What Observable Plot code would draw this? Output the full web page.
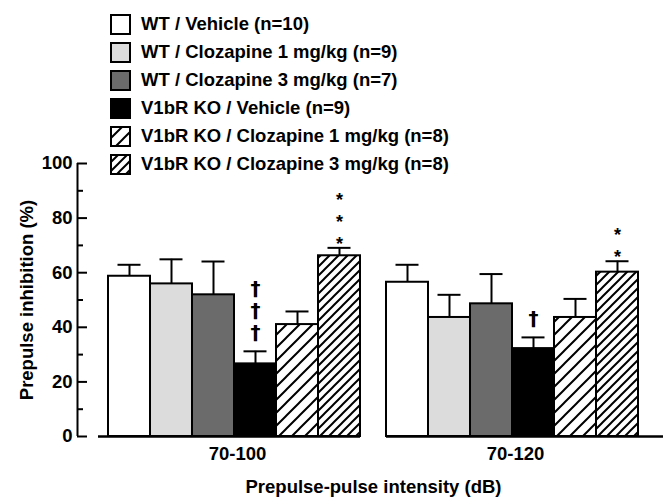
<!DOCTYPE html>
<html><head><meta charset="utf-8">
<script src="https://cdn.jsdelivr.net/npm/d3@7"></script>
<script src="https://cdn.jsdelivr.net/npm/@observablehq/plot@0.6"></script>
<style>
body{margin:0;background:#fff;font-family:"Liberation Sans",Arial,sans-serif;}
#wrap{position:relative;width:663px;height:497px;overflow:hidden;}
#legend{position:absolute;left:110px;top:10px;font-weight:bold;font-size:18.5px;color:#000;}
.row{display:flex;align-items:center;height:28px;white-space:nowrap;}
.row svg{margin-right:10px;flex:none;}
</style></head><body>
<svg width="0" height="0" style="position:absolute">
  <defs>
    <pattern id="hatchWide" patternUnits="userSpaceOnUse" width="13" height="13">
      <rect width="13" height="13" fill="white"/>
      <path d="M-3,3 L3,-3 M0,13 L13,0 M10,16 L16,10" stroke="black" stroke-width="2"/>
    </pattern>
    <pattern id="hatchNarrow" patternUnits="userSpaceOnUse" width="9" height="9">
      <rect width="9" height="9" fill="white"/>
      <path d="M-3,3 L3,-3 M0,9 L9,0 M6,12 L12,6" stroke="black" stroke-width="2"/>
    </pattern>
  </defs>
</svg>
<div id="wrap"><div id="chart"></div><div id="legend"></div></div>
<script>
const intensities = ["70-100", "70-120"];
const conditions = [
  "WT / Vehicle (n=10)",
  "WT / Clozapine 1 mg/kg (n=9)",
  "WT / Clozapine 3 mg/kg (n=7)",
  "V1bR KO / Vehicle (n=9)",
  "V1bR KO / Clozapine 1 mg/kg (n=8)",
  "V1bR KO / Clozapine 3 mg/kg (n=8)"
];
const fills = ["white", "#dcdcdc", "#6b6b6b", "black", "url(#hatchWide)", "url(#hatchNarrow)"];
const pi100 = [58.7, 55.9, 51.9, 26.6, 41.0, 66.2];
const sem100 = [4.2, 9.0, 12.2, 4.6, 4.8, 2.9];
const pi120 = [56.5, 43.6, 48.6, 32.2, 43.6, 60.2];
const sem120 = [6.4, 8.3, 10.9, 4.1, 6.8, 4.0];
const sig100 = ["", "", "", "†\n†\n†", "", "*\n*\n*"];
const sig120 = ["", "", "", "†", "", "*\n*"];
const yTicks = [0, 20, 40, 60, 80, 100];
const yMinor = [10, 30, 50, 70, 90];
const yLabel = "Prepulse inhibition (%)";
const xLabel = "Prepulse-pulse intensity (dB)";

const data = [];
conditions.forEach((c, i) => {
  data.push({group: intensities[0], cond: c, value: pi100[i], top: pi100[i] + sem100[i], sig: sig100[i]});
  data.push({group: intensities[1], cond: c, value: pi120[i], top: pi120[i] + sem120[i], sig: sig120[i]});
});

const font = "Liberation Sans, Arial, sans-serif";
const chart = Plot.plot({
  width: 663, height: 497,
  marginTop: 163, marginBottom: 61, marginLeft: 108, marginRight: 25,
  style: {fontFamily: font, fontSize: "18.5px", fontWeight: "bold", color: "black", background: "white", overflow: "visible"},
  fx: {domain: intensities, paddingInner: 0.094, paddingOuter: 0},
  x: {domain: conditions, padding: 0, axis: null},
  y: {domain: [0, 100]},
  color: {domain: conditions, range: fills},
  marks: [
    Plot.barY(data, {fx: "group", x: "cond", y: "value", fill: "cond", stroke: "black", strokeWidth: 2}),
    Plot.ruleX(data, {fx: "group", x: "cond", y1: "value", y2: "top", stroke: "black", strokeWidth: 2}),
    Plot.tickY(data, {fx: "group", x: "cond", y: "top", stroke: "black", strokeWidth: 2, inset: 9.5}),
    Plot.text(data.filter(d => d.sig.includes("†")), {fx: "group", x: "cond", y: "top", text: "sig", lineAnchor: "bottom", lineHeight: 1.1, dy: -12, fontSize: 20, fontFamily: "DejaVu Sans, sans-serif"}),
    Plot.text(data.filter(d => d.sig.includes("*")), {fx: "group", x: "cond", y: "top", text: "sig", lineAnchor: "bottom", lineHeight: 1.22, dy: 2, fontSize: 18}),
    Plot.ruleY([{fx: intensities[0], y: 0}], {fx: "fx", y: "y", insetLeft: -10, strokeWidth: 2.5}),
    Plot.ruleY([{fx: intensities[1], y: 0}], {fx: "fx", y: "y", insetRight: -25, strokeWidth: 2.5}),
    Plot.ruleX([{fx: intensities[0], x: conditions[0]}], {fx: "fx", x: "x", y1: yTicks[0], y2: yTicks[yTicks.length - 1], dx: -52, strokeWidth: 2}),
    Plot.axisY(yTicks, {anchor: "left", dx: -31, tickSize: -10, tickPadding: 15, strokeWidth: 2, label: null}),
    Plot.axisY(yMinor, {anchor: "left", dx: -31, tickSize: -6, tickFormat: () => "", strokeWidth: 2, label: null}),
    Plot.axisFx({anchor: "bottom", tickSize: 0, tickPadding: 10, dx: 3, label: xLabel, labelAnchor: "center", labelArrow: "none", labelOffset: 56}),
    Plot.text([yLabel], {text: d => d, frameAnchor: "left", facetAnchor: "left", textAnchor: "middle", rotate: -90, dx: -81, fontSize: 18.5})
  ]
});
document.getElementById("chart").appendChild(chart);

const legend = document.getElementById("legend");
conditions.forEach((c, i) => {
  const row = document.createElement("div");
  row.className = "row";
  row.innerHTML = `<svg width="21" height="21"><rect x="1" y="1" width="19" height="19" fill="${fills[i]}" stroke="black" stroke-width="2"/></svg><span>${c}</span>`;
  legend.appendChild(row);
});
</script>
</body></html>
